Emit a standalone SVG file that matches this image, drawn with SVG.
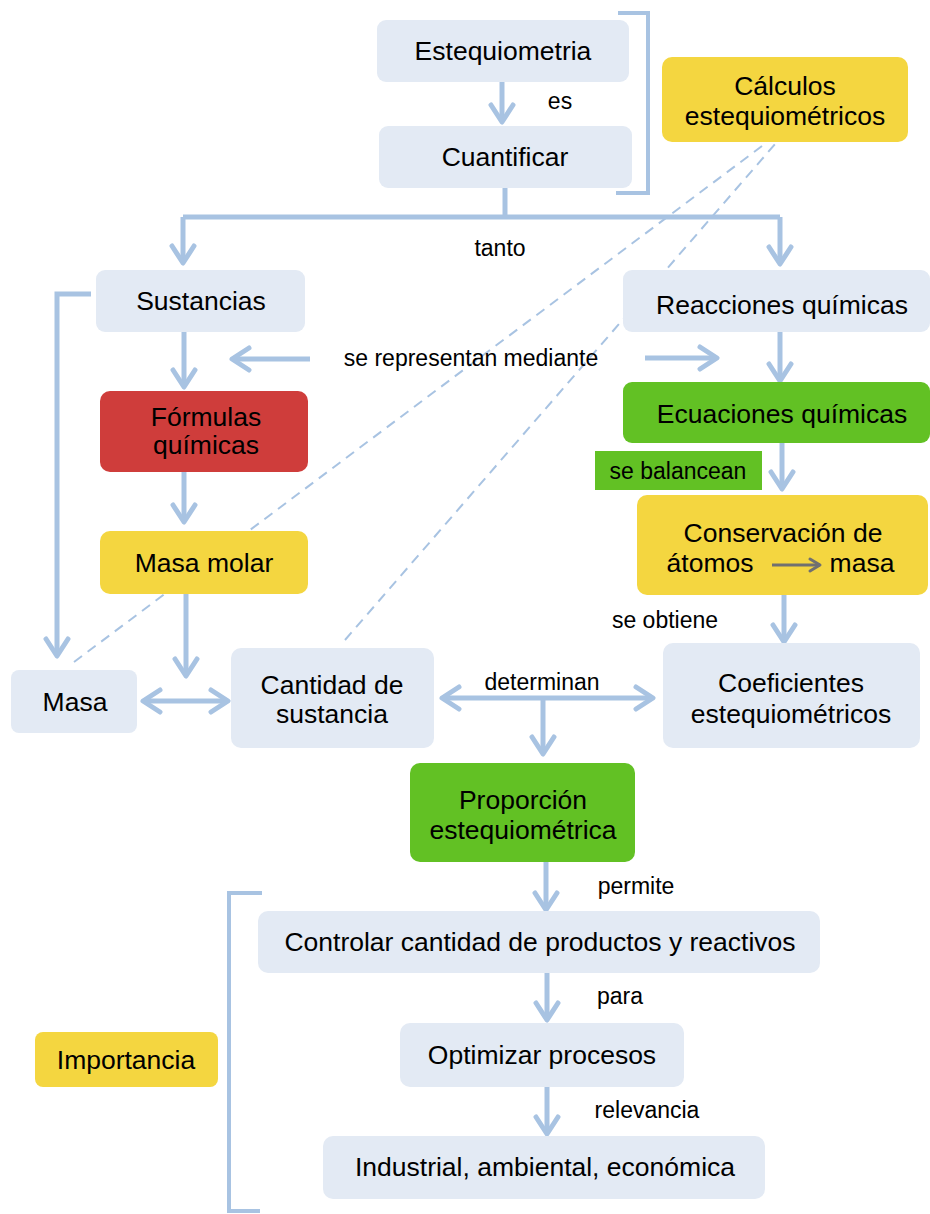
<svg xmlns="http://www.w3.org/2000/svg" width="930" height="1214" viewBox="0 0 930 1214">
<style>
.n{fill:#E3EAF4}
.y{fill:#F4D640}
.g{fill:#62C124}
.r{fill:#CF3D3B}
.t{font-family:"Liberation Sans",Arial,sans-serif;font-size:26.5px;fill:#000;text-anchor:middle}
.l{font-family:"Liberation Sans",Arial,sans-serif;font-size:23px;fill:#000;text-anchor:middle}
.c{fill:none;stroke:#A8C3E2;stroke-width:5}
.d{fill:none;stroke:#A8C3E2;stroke-width:2;stroke-dasharray:10 7}
.br{fill:none;stroke:#A8C3E2;stroke-width:4}
</style>
<defs>
<marker id="a" markerUnits="userSpaceOnUse" viewBox="-22 -14 28 28" markerWidth="28" markerHeight="28" refX="0" refY="0" orient="auto-start-reverse">
<path d="M-17,-11 L0,0 L-17,11" fill="none" stroke="#A8C3E2" stroke-width="5" stroke-linecap="round" stroke-linejoin="round"/>
</marker>
<marker id="k" markerUnits="userSpaceOnUse" viewBox="-14 -10 18 20" markerWidth="18" markerHeight="20" refX="0" refY="0" orient="auto">
<path d="M-10,-6 L0,0 L-10,6" fill="none" stroke="#707070" stroke-width="3" stroke-linecap="round" stroke-linejoin="round"/>
</marker>
</defs>
<rect width="930" height="1214" fill="#fff"/>
<g id="connectors">
<path class="d" d="M74,662 L766,143"/>
<path class="d" d="M345,640 L776,143"/>
<path class="br" d="M618,13 H648 V193 H616"/>
<path class="br" d="M262,893 H229 V1211 H260"/>
<path class="c" d="M502,82 V122" marker-end="url(#a)"/>
<path class="c" d="M505,188 V217"/>
<path class="c" d="M183,217 H780"/>
<path class="c" d="M183,217 V263" marker-end="url(#a)"/>
<path class="c" d="M780,217 V264" marker-end="url(#a)"/>
<path class="c" d="M91,294 H57 V656" marker-end="url(#a)"/>
<path class="c" d="M184,332 V387" marker-end="url(#a)"/>
<path class="c" d="M310,359 H232" marker-end="url(#a)"/>
<path class="c" d="M645,358 H717" marker-end="url(#a)"/>
<path class="c" d="M780,332 V381" marker-end="url(#a)"/>
<path class="c" d="M782,443 V489" marker-end="url(#a)"/>
<path class="c" d="M184,472 V522" marker-end="url(#a)"/>
<path class="c" d="M186,594 V676" marker-end="url(#a)"/>
<path class="c" d="M784,595 V642" marker-end="url(#a)"/>
<path class="c" d="M143,701 H228" marker-start="url(#a)" marker-end="url(#a)"/>
<path class="c" d="M442,698 H653" marker-start="url(#a)" marker-end="url(#a)"/>
<path class="c" d="M543,698 V754" marker-end="url(#a)"/>
<path class="c" d="M546,862 V910" marker-end="url(#a)"/>
<path class="c" d="M547,973 V1020" marker-end="url(#a)"/>
<path class="c" d="M547,1087 V1134" marker-end="url(#a)"/>
</g>
<g id="n-estequiometria"><rect class="n" x="377" y="20" width="252" height="62" rx="9"/><text class="t" x="503" y="60">Estequiometria</text></g>
<g id="l-es"><text class="l" x="560" y="109">es</text></g>
<g id="n-cuantificar"><rect class="n" x="379" y="126" width="253" height="62" rx="9"/><text class="t" x="505" y="166">Cuantificar</text></g>
<g id="n-calculos"><rect class="y" x="662" y="57" width="246" height="85" rx="10"/><text class="t" x="785" y="95">Cálculos</text><text class="t" x="785" y="125">estequiométricos</text></g>
<g id="l-tanto"><text class="l" x="500" y="256">tanto</text></g>
<g id="n-sustancias"><rect class="n" x="96" y="270" width="209" height="62" rx="9"/><text class="t" x="201" y="310">Sustancias</text></g>
<g id="n-reacciones"><rect class="n" x="623" y="270" width="307" height="62" rx="9"/><text class="t" x="782" y="314">Reacciones químicas</text></g>
<g id="l-representan"><text class="l" x="471" y="366">se representan mediante</text></g>
<g id="n-formulas"><rect class="r" x="100" y="391" width="208" height="81" rx="10"/><text class="t" x="206" y="426">Fórmulas</text><text class="t" x="206" y="454">químicas</text></g>
<g id="n-ecuaciones"><rect class="g" x="623" y="382" width="307" height="61" rx="9"/><text class="t" x="782" y="423">Ecuaciones químicas</text></g>
<g id="l-balancean"><rect class="g" x="595" y="451" width="167" height="39"/><text class="l" x="678" y="479">se balancean</text></g>
<g id="n-masamolar"><rect class="y" x="100" y="531" width="208" height="63" rx="10"/><text class="t" x="204" y="572">Masa molar</text></g>
<g id="n-conservacion"><rect class="y" x="637" y="495" width="291" height="100" rx="10"/><text class="t" x="783" y="542">Conservación de</text><text class="t" x="710" y="572">átomos</text><text class="t" x="862" y="572">masa</text><path d="M772,565 H820" fill="none" stroke="#707070" stroke-width="3" marker-end="url(#k)"/></g>
<g id="l-obtiene"><text class="l" x="665" y="628">se obtiene</text></g>
<g id="n-masa"><rect class="n" x="11" y="670" width="126" height="63" rx="8"/><text class="t" x="75" y="711">Masa</text></g>
<g id="n-cantidad"><rect class="n" x="231" y="648" width="203" height="100" rx="10"/><text class="t" x="332" y="694">Cantidad de</text><text class="t" x="332" y="723">sustancia</text></g>
<g id="l-determinan"><text class="l" x="542" y="690">determinan</text></g>
<g id="n-coeficientes"><rect class="n" x="663" y="643" width="257" height="105" rx="10"/><text class="t" x="791" y="692">Coeficientes</text><text class="t" x="791" y="723">estequiométricos</text></g>
<g id="n-proporcion"><rect class="g" x="410" y="763" width="225" height="99" rx="10"/><text class="t" x="523" y="809">Proporción</text><text class="t" x="523" y="839">estequiométrica</text></g>
<g id="l-permite"><text class="l" x="636" y="894">permite</text></g>
<g id="n-controlar"><rect class="n" x="258" y="911" width="562" height="62" rx="10"/><text class="t" x="540" y="951">Controlar cantidad de productos y reactivos</text></g>
<g id="l-para"><text class="l" x="620" y="1004">para</text></g>
<g id="n-optimizar"><rect class="n" x="400" y="1023" width="284" height="64" rx="10"/><text class="t" x="542" y="1064">Optimizar procesos</text></g>
<g id="n-importancia"><rect class="y" x="35" y="1032" width="183" height="55" rx="8"/><text class="t" x="126" y="1069">Importancia</text></g>
<g id="l-relevancia"><text class="l" x="647" y="1118">relevancia</text></g>
<g id="n-industrial"><rect class="n" x="323" y="1136" width="442" height="63" rx="10"/><text class="t" x="545" y="1176">Industrial, ambiental, económica</text></g>
</svg>
